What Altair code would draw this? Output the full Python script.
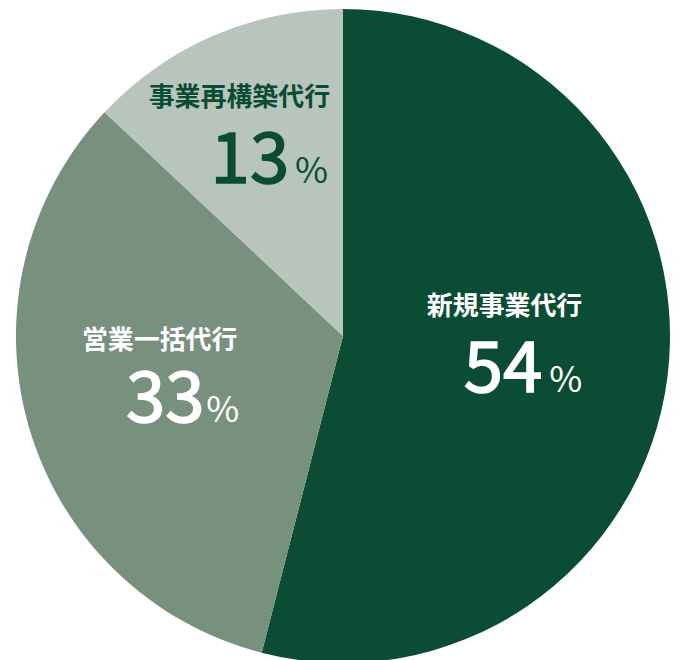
import altair as alt
import pandas as pd

categories = ["新規事業代行", "営業一括代行", "事業再構築代行"]
values = [54, 33, 13]
slice_colors = ["#0b4d34", "#78917f", "#b8c5bc"]
text_colors = ["#ffffff", "#ffffff", "#0b4d34"]

df = pd.DataFrame({
    "category": categories,
    "value": values,
    "idx": list(range(len(categories))),
    "num": [str(v) for v in values],
})

FONT = "Noto Sans CJK JP"
CX, CY = 336, 328  # pie centre inside the plot area
R = 328

pie = alt.Chart(df).mark_arc(outerRadius=R, strokeWidth=0).encode(
    theta=alt.Theta("value:Q", stack=True),
    order=alt.Order("idx:O"),
    x=alt.value(CX),
    y=alt.value(CY),
    color=alt.Color("category:N", sort=categories,
                    scale=alt.Scale(domain=categories, range=slice_colors),
                    legend=None),
)

# label anchor: mid-angle of each slice (computed before filtering)
lab_base = alt.Chart(df).transform_window(
    cum="sum(value)", sort=[alt.SortField("idx")]
).transform_joinaggregate(
    total="sum(value)"
).transform_calculate(
    frac="(datum.cum - datum.value / 2) / datum.total"
).encode(
    theta=alt.Theta("frac:Q", scale=alt.Scale(domain=[0, 1])),
    x=alt.value(CX),
    y=alt.value(CY),
)

# per-slice offsets of the text block from the label anchor (mid-angle, radius 180)
offsets = {
    "新規事業代行": dict(lab=(61.4, -43.6), num=(21.4, 33.4), pct=(61.4, 33.4)),
    "営業一括代行": dict(lab=(66.9, -37.2), num=(33.9, 35.8), pct=(68.9, 35.8)),
    "事業再構築代行": dict(lab=(58.5, -65.8), num=(17.5, 12.2), pct=(56.5, 12.2)),
}

text_layers = []
for cat, tcol in zip(categories, text_colors):
    o = offsets[cat]
    sel = lab_base.transform_filter(alt.datum.category == cat)
    text_layers.append(sel.mark_text(radius=180, align="right", baseline="alphabetic",
                                     font=FONT, fontSize=26, fontWeight="bold", color=tcol,
                                     dx=o["lab"][0], dy=o["lab"][1]).encode(text="category:N"))
    text_layers.append(sel.mark_text(radius=180, align="right", baseline="alphabetic",
                                     font=FONT, fontSize=71, fontWeight="normal", color=tcol,
                                     stroke=tcol, strokeWidth=1.6,
                                     dx=o["num"][0], dy=o["num"][1]).encode(text="num:N"))
    text_layers.append(sel.mark_text(radius=180, align="right", baseline="alphabetic",
                                     font=FONT, fontSize=36, fontWeight="normal", color=tcol,
                                     dx=o["pct"][0], dy=o["pct"][1]).encode(text=alt.value("%")))

chart = alt.layer(pie, alt.layer(*text_layers)).resolve_scale(
    theta="independent"
).properties(
    width=672, height=644,
    autosize=alt.AutoSizeParams(type="none"),
    padding={"left": 0, "top": 0, "right": 0, "bottom": 8},
).configure_view(stroke=None)

chart.save("out.html", embed_options={"renderer": "svg", "actions": False})
